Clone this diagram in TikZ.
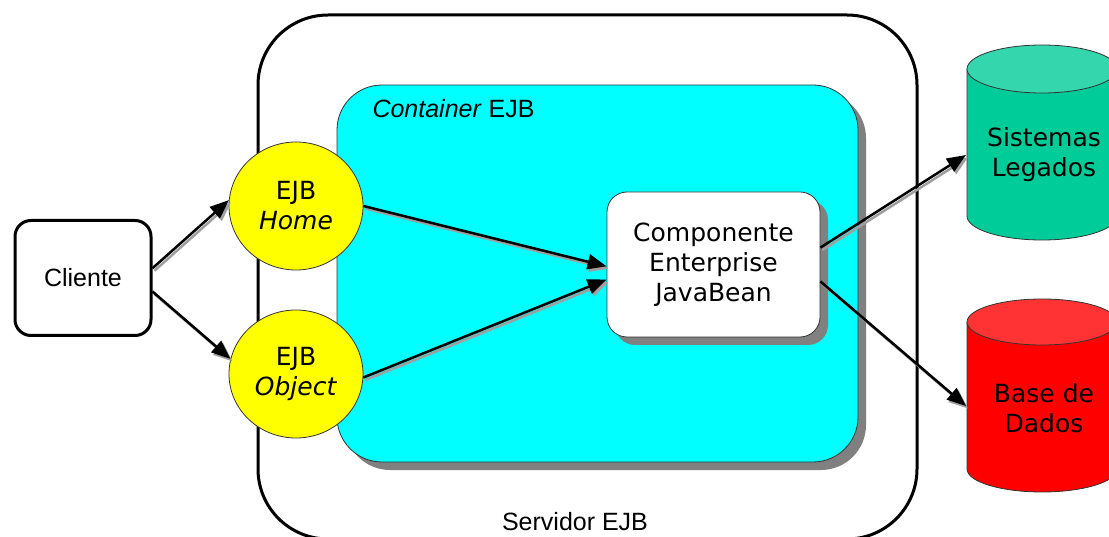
\documentclass[tikz,border=0pt]{standalone}
\usepackage{fontspec}
\setmainfont{DejaVu Sans}
\newfontfamily\arialf{Liberation Sans}
\usetikzlibrary{arrows.meta,shapes.geometric,calc}
\definecolor{cyanfill}{HTML}{00FFFF}
\definecolor{yel}{HTML}{FFFF00}
\definecolor{shadowgray}{HTML}{808080}
\definecolor{sbody}{HTML}{00CC99}
\definecolor{stop}{HTML}{33D6AD}
\definecolor{bbody}{HTML}{FF0000}
\definecolor{btop}{HTML}{FF3333}
\definecolor{outl}{HTML}{333333}
\begin{document}
\begin{tikzpicture}[x=1pt,y=-1pt,
  txt/.style={font=\fontsize{25}{30}\selectfont, align=center, text=black},
  atxt/.style={font=\arialf\fontsize{25}{30}\selectfont, text=black},
  circ/.style={ellipse, minimum width=134pt, minimum height=128pt, inner sep=0pt, fill=yel, draw=outl, line width=0.8pt, txt},
  arr/.style={line width=2.5pt, -{Triangle[length=19pt,width=15pt]}},
  arrshadow/.style={arr, draw=gray!75, fill=gray!75, transform canvas={xshift=2pt,yshift=-2.5pt}}
]
\useasboundingbox (0,0) rectangle (1109,537);
\begin{scope}
\clip (0,0) rectangle (1109,537);
% server box
\draw[line width=3pt, rounded corners=70pt] (258,15) rectangle (917,539);
% container
\fill[shadowgray, rounded corners=45pt] (345,93) rectangle (866,470);
\filldraw[fill=cyanfill, draw=outl, line width=0.8pt, rounded corners=45pt] (337,85) rectangle (858,462);
% cylinders
\fill[sbody] (967,69) rectangle (1117,216);
\fill[sbody] (1042,216) ellipse [x radius=75pt, y radius=24pt];
\draw[outl, line width=0.8pt] (967,69) -- (967,216) arc [start angle=180, end angle=360, x radius=75pt, y radius=24pt] -- (1117,69);
\filldraw[fill=stop, draw=outl, line width=0.8pt] (1042,69) ellipse [x radius=75pt, y radius=24pt];
\fill[bbody] (967,322) rectangle (1117,469);
\fill[bbody] (1042,469) ellipse [x radius=75pt, y radius=23pt];
\draw[outl, line width=0.8pt] (967,322) -- (967,469) arc [start angle=180, end angle=360, x radius=75pt, y radius=23pt] -- (1117,322);
\filldraw[fill=btop, draw=outl, line width=0.8pt] (1042,322) ellipse [x radius=75pt, y radius=23pt];
\end{scope}
\node[atxt, anchor=west] (cont) at (369,109) {\textit{Container} EJB};
\node[atxt] (serv) at (575,522) {Servidor EJB};
\node[txt] (sist) at (1044,155) {Sistemas\\Legados};
\node[txt] (base) at (1044,408) {Base de\\Dados};
\coordinate (sistin) at (966,155);
\coordinate (basein) at (966,406);
% component
\fill[shadowgray, rounded corners=20pt] (615,200) rectangle (828,345);
\node[txt, rectangle, rounded corners=20pt, fill=white, draw=outl, line width=0.8pt, minimum width=213pt, minimum height=145pt] (comp) at (713.5,264.5) {Componente\\Enterprise\\JavaBean};
% client
\node[atxt, rectangle, rounded corners=16pt, draw=black, fill=white, line width=3pt, minimum width=136pt, minimum height=115pt] (cli) at (83,278) {Cliente};
% EJB circles
\node[circ] (home) at (296,206) {EJB\\\textit{Home}};
\node[circ] (obj) at (296,374) {EJB\\\textit{Object}};
% arrows: shadows
\draw[arrshadow] (cli.8) -- (home.175);
\draw[arrshadow] (cli.-11) -- (obj.167);
\draw[arrshadow] (home.east) -- (comp.181);
\draw[arrshadow] (obj.-3) -- (comp.188);
\draw[arrshadow] (comp.9) -- (sistin);
\draw[arrshadow] (comp.-9) -- (basein);
% arrows
\draw[arr] (cli.8) -- (home.175);
\draw[arr] (cli.-11) -- (obj.167);
\draw[arr] (home.east) -- (comp.181);
\draw[arr] (obj.-3) -- (comp.188);
\draw[arr] (comp.9) -- (sistin);
\draw[arr] (comp.-9) -- (basein);
\end{tikzpicture}
\end{document}
